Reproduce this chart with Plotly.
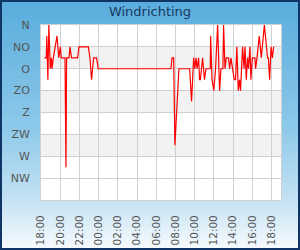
import plotly.graph_objects as go

day1 = "2024-06-01 "
day2 = "2024-06-02 "

times = [day1 + t for t in [
    "18:21", "18:33", "18:36", "18:43", "18:49", "18:58", "19:05", "19:09", "19:17", "19:29",
    "19:40", "19:51", "20:01", "20:07", "20:30", "20:36", "20:40", "20:55", "21:01", "21:11",
    "21:49", "21:57", "22:56", "23:06", "23:16", "23:29", "23:47", "23:58"]] + [day2 + t for t in [
    "07:32", "07:39", "07:49", "07:57", "08:22", "09:29", "09:41", "09:54", "10:01", "10:09",
    "10:15", "10:25", "10:31", "10:36", "10:50", "11:02", "11:11", "11:38", "11:40", "11:49",
    "12:00", "12:11", "12:24", "12:36", "12:45", "12:57", "13:01", "13:10", "13:18", "13:32",
    "13:39", "13:47", "13:56", "14:08", "14:16", "14:24", "14:33", "14:41", "14:47", "15:00",
    "15:09", "15:15", "15:23", "15:31", "15:37", "15:46", "15:52", "16:01", "16:17", "16:21",
    "16:30", "16:44", "16:57", "17:16", "17:36", "17:41", "17:49", "17:58", "18:06", "18:14"]]

direction = [
    67.5, 67.5, 22.5, 112.5, 0, 90, 67.5, 90, 67.5, 45,
    22.5, 67.5, 45, 67.5, 67.5, 292.5, 67.5, 67.5, 45, 67.5,
    67.5, 45, 45, 67.5, 112.5, 67.5, 67.5, 90,
    90, 67.5, 67.5, 247.5, 90, 90, 157.5, 67.5, 90, 67.5,
    90, 67.5, 112.5, 112.5, 67.5, 112.5, 90, 90, 22.5, 112.5,
    135, 90, 0, 135, 90, 90, 0, 90, 67.5, 67.5,
    90, 67.5, 90, 112.5, 112.5, 45, 135, 112.5, 135, 45,
    90, 45, 112.5, 67.5, 90, 45, 112.5, 67.5, 67.5, 90,
    67.5, 22.5, 67.5, 0, 67.5, 67.5, 112.5, 45, 67.5, 45]

tick_vals = [0, 45, 90, 135, 180, 225, 270, 315]
tick_text = ["N", "NO", "O", "ZO", "Z", "ZW", "W", "NW"]
band_starts = [45, 135, 225]

W, H = 300, 250
L, R, T, B = 41, 19, 25, 50
pw, ph = W - L - R, H - T - B

def px(x):
    return (x - L) / pw

def py(y):
    return (H - B - y) / ph

def lerp(c1, c2, f):
    return tuple(round(a + (b - a) * f) for a, b in zip(c1, c2))

stops = [(0.0, (88, 172, 220)), (0.5, (140, 200, 233)), (0.8, (196, 226, 243)), (1.0, (248, 251, 254))]

def grad(f):
    for (f1, c1), (f2, c2) in zip(stops[:-1], stops[1:]):
        if f <= f2:
            return lerp(c1, c2, (f - f1) / (f2 - f1))
    return stops[-1][1]

shapes = []
n = 125
for i in range(n):
    y0 = i * H / n
    y1 = (i + 1) * H / n
    c = grad((y0 + y1) / 2 / H)
    shapes.append(dict(type="rect", xref="paper", yref="paper", layer="below",
                       x0=px(0), x1=px(W), y0=py(y1 + 0.5), y1=py(y0),
                       fillcolor="rgb(%d,%d,%d)" % c, line=dict(width=0)))
shapes.append(dict(type="rect", xref="paper", yref="paper", layer="below",
                   x0=0, x1=1, y0=0, y1=1, fillcolor="white", line=dict(width=0)))
for b in band_starts:
    shapes.append(dict(type="rect", xref="paper", yref="y", layer="below",
                       x0=0, x1=1, y0=b, y1=b + 45, fillcolor="#f2f2f2", line=dict(width=0)))
shapes.append(dict(type="rect", xref="paper", yref="paper", layer="above",
                   x0=px(1), x1=px(W - 1), y0=py(H - 1), y1=py(1),
                   line=dict(color="#0e3566", width=2), fillcolor="rgba(0,0,0,0)"))

fig = go.Figure(go.Scatter(x=times, y=direction, mode="lines",
                           line=dict(color="#ff0000", width=1.2), hoverinfo="skip"))

fig.update_layout(
    width=W, height=H,
    margin=dict(l=L, r=R, t=T, b=B, autoexpand=False),
    paper_bgcolor="rgba(0,0,0,0)", plot_bgcolor="rgba(0,0,0,0)",
    showlegend=False,
    shapes=shapes,
    font=dict(family="DejaVu Sans", size=11, color="#555555"),
    title=dict(text="Windrichting", x=0.5, xanchor="center", y=1 - 11.5 / H, yanchor="middle",
               xref="container", yref="container",
               font=dict(family="DejaVu Sans", size=13, color="#17395f")),
    xaxis=dict(type="date", range=[day1 + "18:00", day2 + "19:00"], automargin=False,
               dtick=2 * 3600 * 1000, tick0=day1 + "18:00", tickformat="%H:%M",
               tickangle=-90, showgrid=True, gridcolor="#d0d0d0", gridwidth=1,
               showline=True, linecolor="#d0d0d0", mirror=True, zeroline=False,
               ticks="outside", ticklen=10, tickcolor="rgba(0,0,0,0)",
               tickfont=dict(size=10.5, color="#555555")),
    yaxis=dict(range=[360, 0], tickvals=tick_vals, ticktext=tick_text, automargin=False,
               showgrid=True, gridcolor="#d0d0d0", gridwidth=1,
               showline=True, linecolor="#d0d0d0", mirror=True, zeroline=False,
               ticks="outside", ticklen=8, tickcolor="rgba(0,0,0,0)",
               tickfont=dict(size=11, color="#555555")),
)

fig.write_html("out.html")
